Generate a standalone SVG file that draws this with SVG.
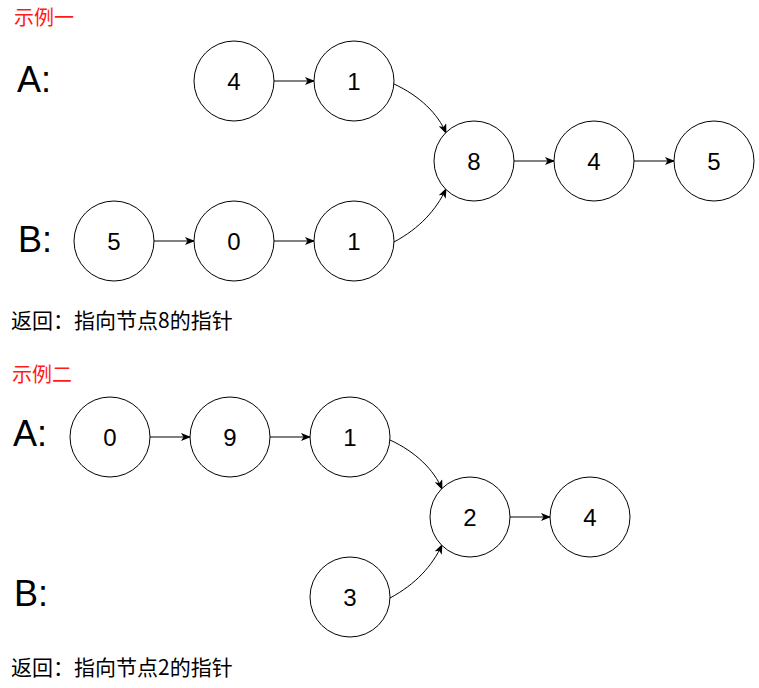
<svg xmlns="http://www.w3.org/2000/svg" width="759" height="688" viewBox="0 0 759 688">
<style>
.n{fill:#fff;stroke:#000;stroke-width:1}
.t{font-family:"Liberation Sans",Arial,sans-serif;font-size:24px;text-anchor:middle;dominant-baseline:central;fill:#000}
.big{font-family:"Liberation Sans",Arial,sans-serif;font-size:36px;fill:#000}
.cap{font-family:"Noto Sans CJK SC","Liberation Sans",sans-serif;font-size:20px}
.ret{font-size:21px}
.e{fill:none;stroke:#000;stroke-width:1;marker-end:url(#ah)}
</style>
<defs>
<marker id="ah" viewBox="0 0 10 8" refX="9" refY="4" markerWidth="10" markerHeight="8" markerUnits="userSpaceOnUse" orient="auto">
<path d="M0,0 L10,4 L0,8 L2.5,4 Z" fill="#000"/>
</marker>
</defs>
<rect width="759" height="688" fill="#fff"/>
<text class="cap" x="14" y="25" fill="#ff1a1a">示例一</text>
<text class="cap ret" x="11" y="328" fill="#000">返回：指向节点8的指针</text>
<text class="cap" x="12" y="382" fill="#ff1a1a">示例二</text>
<text class="cap ret" x="11" y="675" fill="#000">返回：指向节点2的指针</text>
<text class="big" x="17" y="92">A:</text>
<text class="big" x="18" y="252">B:</text>
<text class="big" x="13" y="446">A:</text>
<text class="big" x="14" y="606">B:</text>
<g id="connectors">
<path class="e" d="M274,81 L314,81"/>
<path class="e" d="M154,241 L194,241"/>
<path class="e" d="M274,241 L314,241"/>
<path class="e" d="M514,161 L554,161"/>
<path class="e" d="M634,161 L674,161"/>
<path class="e" d="M394,84 C420,96 438,114 446,133"/>
<path class="e" d="M394,242 C420,228 436,210 446,189"/>
<path class="e" d="M150,437 L190,437"/>
<path class="e" d="M270,437 L310,437"/>
<path class="e" d="M510,517 L550,517"/>
<path class="e" d="M390,440 C416,452 434,470 442,489"/>
<path class="e" d="M390,598 C416,584 432,566 442,545"/>
</g>
<g id="a1"><circle class="n" cx="234" cy="81" r="40"/><text class="t" x="234" y="81">4</text></g>
<g id="a2"><circle class="n" cx="354" cy="81" r="40"/><text class="t" x="354" y="81">1</text></g>
<g id="c1"><circle class="n" cx="474" cy="161" r="40"/><text class="t" x="474" y="161">8</text></g>
<g id="c2"><circle class="n" cx="594" cy="161" r="40"/><text class="t" x="594" y="161">4</text></g>
<g id="c3"><circle class="n" cx="714" cy="161" r="40"/><text class="t" x="714" y="161">5</text></g>
<g id="b1"><circle class="n" cx="114" cy="241" r="40"/><text class="t" x="114" y="241">5</text></g>
<g id="b2"><circle class="n" cx="234" cy="241" r="40"/><text class="t" x="234" y="241">0</text></g>
<g id="b3"><circle class="n" cx="354" cy="241" r="40"/><text class="t" x="354" y="241">1</text></g>
<g id="d1"><circle class="n" cx="110" cy="437" r="40"/><text class="t" x="110" y="437">0</text></g>
<g id="d2"><circle class="n" cx="230" cy="437" r="40"/><text class="t" x="230" y="437">9</text></g>
<g id="d3"><circle class="n" cx="350" cy="437" r="40"/><text class="t" x="350" y="437">1</text></g>
<g id="f1"><circle class="n" cx="470" cy="517" r="40"/><text class="t" x="470" y="517">2</text></g>
<g id="f2"><circle class="n" cx="590" cy="517" r="40"/><text class="t" x="590" y="517">4</text></g>
<g id="e1"><circle class="n" cx="350" cy="597" r="40"/><text class="t" x="350" y="597">3</text></g>
</svg>
